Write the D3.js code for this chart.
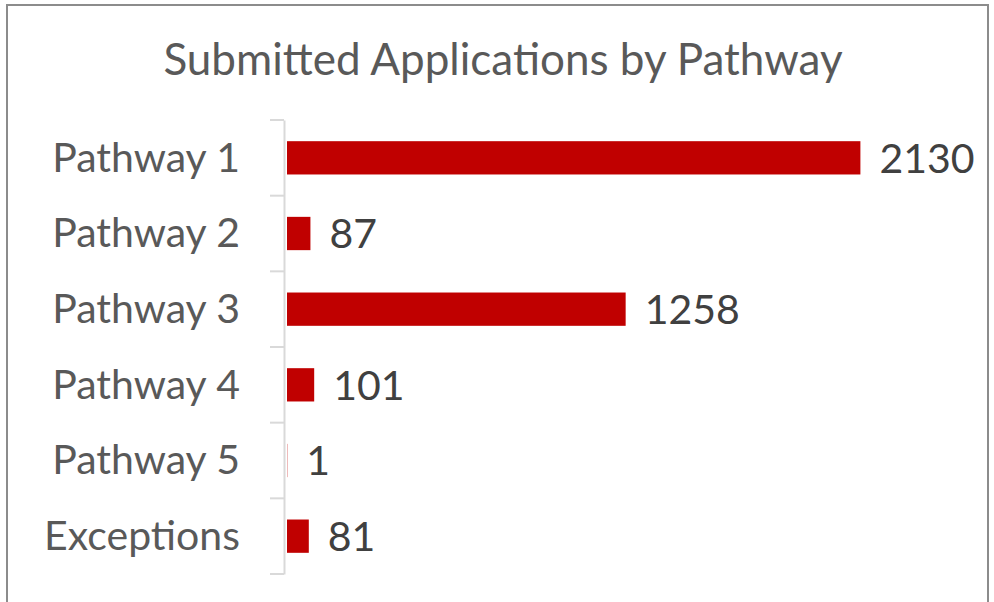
<!DOCTYPE html>
<html>
<head>
<meta charset="UTF-8" />
<title>Submitted Applications by Pathway</title>
<script src="https://cdn.jsdelivr.net/npm/d3@7"></script>
<style>
  body { margin: 0; background: #fff; font-family: 'Lato', sans-serif; }
  svg { display: block; }
</style>
</head>
<body>
<div id="chart"></div>
<script>
  // chart data
  const categories = ['Pathway 1', 'Pathway 2', 'Pathway 3', 'Pathway 4', 'Pathway 5', 'Exceptions']
  const values = [2130, 87, 1258, 101, 1, 81]

  const width = 994
  const height = 602

  const svg = d3.select('#chart')
    .append('svg')
    .attr('width', width)
    .attr('height', height)

  // outer frame
  svg.append('rect')
    .attr('x', 7)
    .attr('y', 5)
    .attr('width', 981)
    .attr('height', 610)
    .attr('fill', '#fff')
    .attr('stroke', '#8c8c8c')
    .attr('stroke-width', 2)

  svg.append('text')
    .attr('x', 503)
    .attr('y', 75)
    .attr('text-anchor', 'middle')
    .attr('font-size', 44)
    .attr('fill', '#595959')
    .text('Submitted Applications by Pathway')

  const x = d3.scaleLinear().domain([0, 2500]).range([286, 959])
  const y = d3.scaleBand().domain(categories).range([120, 574]).paddingInner(0.56).paddingOuter(0.28)

  // category axis
  const yAxis = d3.axisLeft(y).tickSize(0).tickPadding(44)
  const gy = svg.append('g').attr('transform', 'translate(284,0)').call(yAxis)
  gy.select('.domain').attr('stroke', '#d9d9d9').attr('stroke-width', 2)
  gy.selectAll('text')
    .attr('font-family', 'Lato, sans-serif')
    .attr('font-size', 41)
    .attr('dy', '0.34em')
    .attr('fill', '#595959')

  // tick marks between categories
  const bounds = d3.range(categories.length + 1).map(i => y.range()[0] + i * y.step())
  svg.append('g')
    .selectAll('line')
    .data(bounds)
    .join('line')
    .attr('x1', 270)
    .attr('x2', 284)
    .attr('y1', d => d)
    .attr('y2', d => d)
    .attr('stroke', '#d9d9d9')
    .attr('stroke-width', 2)

  svg.append('g')
    .selectAll('rect')
    .data(values)
    .join('rect')
    .attr('x', x(0) + 1)
    .attr('y', (d, i) => y(categories[i]))
    .attr('width', d => x(d) - x(0))
    .attr('height', y.bandwidth())
    .attr('fill', '#c00000')

  svg.append('g')
    .selectAll('text')
    .data(values)
    .join('text')
    .attr('x', d => x(d) + 20)
    .attr('y', (d, i) => y(categories[i]) + y.bandwidth() / 2)
    .attr('dy', '0.36em')
    .attr('font-size', 41)
    .attr('fill', '#404040')
    .text(d => d)
</script>
</body>
</html>
